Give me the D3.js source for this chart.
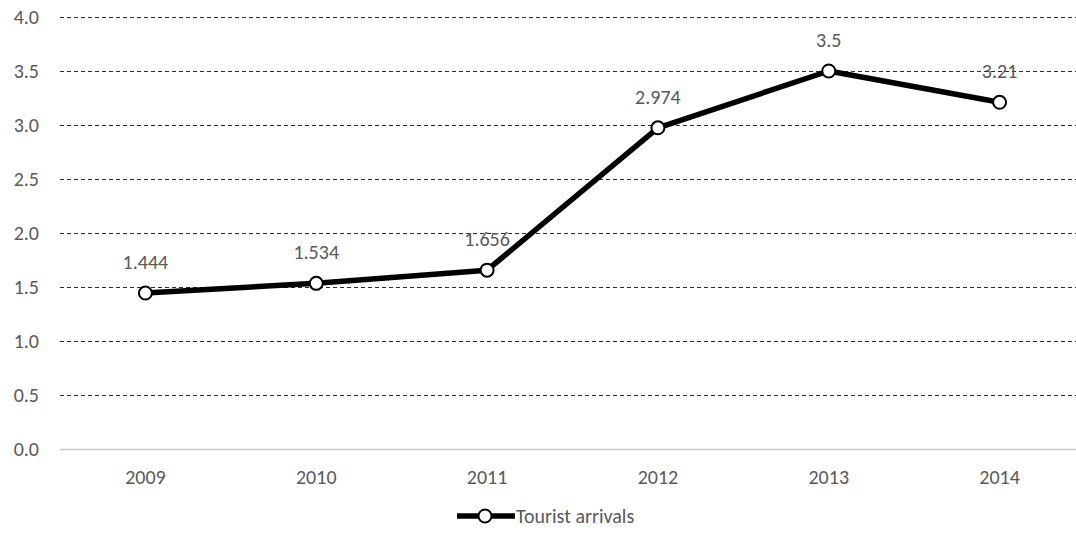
<!DOCTYPE html>
<html>
<head>
<meta charset="utf-8">
<script src="https://cdn.jsdelivr.net/npm/d3@7"></script>
<style>
  body { margin: 0; background: #fff; }
  text { font-family: Carlito, "Open Sans", "Liberation Sans", sans-serif; fill: #595959; }
</style>
</head>
<body>
<svg width="1076" height="535"></svg>
<script>
const years = ["2009", "2010", "2011", "2012", "2013", "2014"];
const arrivals = [1.444, 1.534, 1.656, 2.974, 3.5, 3.21];
const valueLabels = ["1.444", "1.534", "1.656", "2.974", "3.5", "3.21"];
const yTicks = [0, 0.5, 1, 1.5, 2, 2.5, 3, 3.5, 4];
const seriesName = "Tourist arrivals";

const svg = d3.select("svg"),
      margin = {top: 17, right: -9, bottom: 86, left: 60},
      width = +svg.attr("width") - margin.left - margin.right,
      height = +svg.attr("height") - margin.top - margin.bottom;

const g = svg.append("g")
    .attr("transform", `translate(${margin.left},${margin.top})`);

const data = years.map((y, i) => ({year: y, value: arrivals[i], label: valueLabels[i]}));

const x = d3.scaleBand()
    .domain(years)
    .range([0, width]);

const y = d3.scaleLinear()
    .domain([0, 4])
    .range([height, 0]);

// Grid lines
g.selectAll(".grid")
    .data(yTicks.filter(d => d > 0))
    .enter().append("line")
    .attr("x1", 0)
    .attr("x2", width)
    .attr("y1", d => Math.round(y(d)) + 0.5)
    .attr("y2", d => Math.round(y(d)) + 0.5)
    .attr("stroke", "#2a2a2a")
    .attr("stroke-width", 1)
    .attr("stroke-dasharray", "4,3");

g.append("line")
    .attr("x1", 0)
    .attr("x2", width)
    .attr("y1", Math.round(y(0)) + 0.5)
    .attr("y2", Math.round(y(0)) + 0.5)
    .attr("stroke", "#c8c8c8")
    .attr("stroke-width", 1.5);

// Y axis labels
g.selectAll(".ylab")
    .data(yTicks)
    .enter().append("text")
    .attr("x", -21)
    .attr("y", d => y(d))
    .attr("dy", "0.35em")
    .attr("text-anchor", "end")
    .style("font-size", "20px")
    .text(d => d3.format(".1f")(d));

// X axis labels
g.selectAll(".xlab")
    .data(years)
    .enter().append("text")
    .attr("x", d => x(d) + x.bandwidth() / 2)
    .attr("y", height + 28)
    .attr("dy", "0.35em")
    .attr("text-anchor", "middle")
    .style("font-size", "20px")
    .text(d => d);

// Line
const line = d3.line()
    .x(d => x(d.year) + x.bandwidth() / 2)
    .y(d => y(d.value));

g.append("path")
    .datum(data)
    .attr("fill", "none")
    .attr("stroke", "#000")
    .attr("stroke-width", 5.5)
    .attr("stroke-linejoin", "round")
    .attr("d", line);

g.selectAll(".pt")
    .data(data)
    .enter().append("circle")
    .attr("cx", d => x(d.year) + x.bandwidth() / 2)
    .attr("cy", d => y(d.value))
    .attr("r", 6.5)
    .attr("fill", "#fff")
    .attr("stroke", "#000")
    .attr("stroke-width", 2);

// Data labels
g.selectAll(".dlab")
    .data(data)
    .enter().append("text")
    .attr("x", d => x(d.year) + x.bandwidth() / 2)
    .attr("y", d => y(d.value) - 31)
    .attr("dy", "0.35em")
    .attr("text-anchor", "middle")
    .style("font-size", "20px")
    .text(d => d.label);

// Legend
const legend = svg.append("g")
    .attr("transform", "translate(457, 516)");

legend.append("line")
    .attr("x1", 0)
    .attr("x2", 58)
    .attr("stroke", "#000")
    .attr("stroke-width", 5.5);

legend.append("circle")
    .attr("cx", 28)
    .attr("r", 6.5)
    .attr("fill", "#fff")
    .attr("stroke", "#000")
    .attr("stroke-width", 2);

legend.append("text")
    .attr("x", 59)
    .attr("dy", "0.35em")
    .style("font-size", "20px")
    .text(seriesName);
</script>
</body>
</html>
